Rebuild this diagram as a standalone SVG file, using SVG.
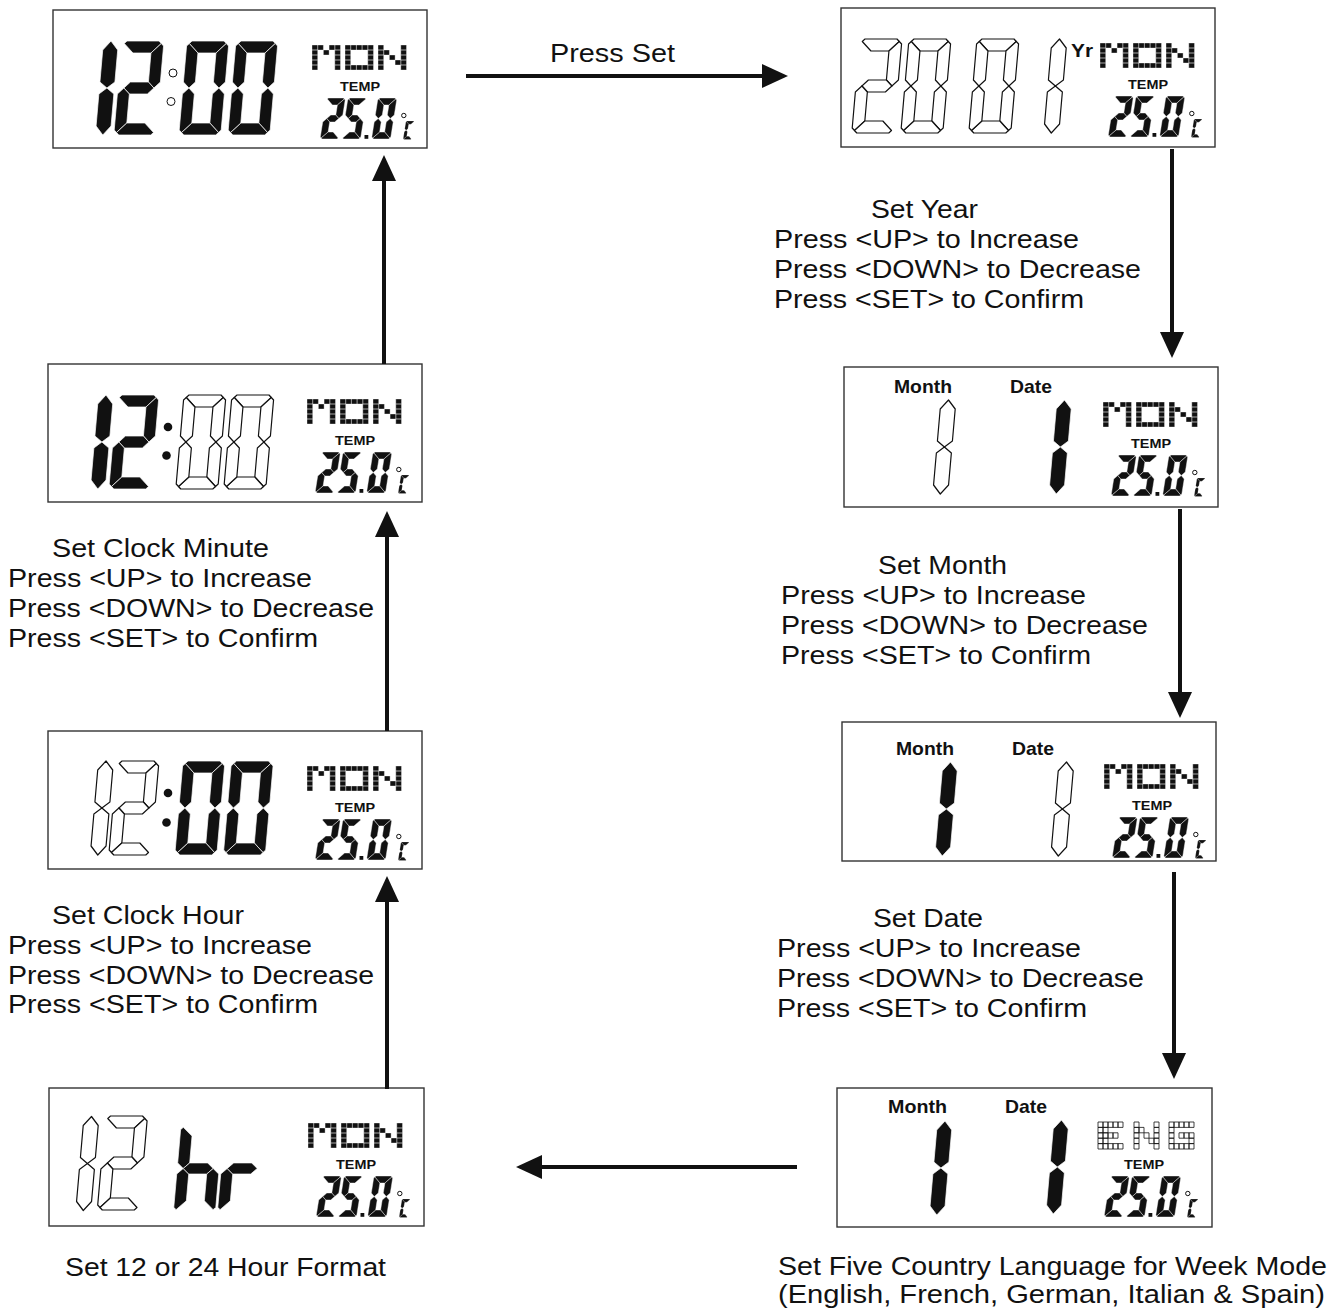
<svg xmlns="http://www.w3.org/2000/svg" xmlns:xlink="http://www.w3.org/1999/xlink" width="1338" height="1309" viewBox="0 0 1338 1309">
<style>
.on{fill:#111;stroke:#fff;stroke-width:0.7;stroke-linejoin:round}
.son{fill:#111;stroke:#fff;stroke-width:0.4;stroke-linejoin:round}
.off{fill:#fff;stroke:#111;stroke-width:1.2;stroke-linejoin:round}
.box{fill:#fff;stroke:#333;stroke-width:1.4}
.t{font-family:"Liberation Sans",Arial,sans-serif;font-size:25px;fill:#111}
.lb{font-family:"Liberation Sans",Arial,sans-serif;font-weight:bold;fill:#111}
.conn line{stroke:#111;stroke-width:4}
.px{fill:#111;stroke:#fff;stroke-width:0.35}
.pxo{fill:#fff;stroke:#111;stroke-width:0.8}
</style>
<defs>
<marker id="ah" markerUnits="userSpaceOnUse" markerWidth="26" markerHeight="26" viewBox="0 0 26 26" refX="4" refY="13" orient="auto"><path d="M0,1 L26,13 L0,25 z" fill="#111"/></marker>
<polygon id="ba" points="5,0 37,0 39.5,2.5 30,12 12,12 2.5,2.5"/>
<polygon id="bb" points="39.5,2.5 42,5 42,41 36,47 30,41 30,12"/>
<polygon id="bc" points="36,47 42,53 42,89 39.5,91.5 30,82 30,53"/>
<polygon id="bd" points="2.5,91.5 5,94 37,94 39.5,91.5 30,82 12,82"/>
<polygon id="be" points="0,53 6,47 12,53 12,82 2.5,91.5 0,89"/>
<polygon id="bf" points="0,5 2.5,2.5 12,12 12,41 6,47 0,41"/>
<polygon id="bg" points="6,47 12,41 30,41 36,47 30,53 12,53"/>
<polygon id="o1" points="7.5,0 15,9 15,41 7.5,47 0,41 0,9"/>
<polygon id="o2" points="7.5,47 15,53 15,85 7.5,94 0,85 0,53"/>
<g id="B0"><use href="#ba"/><use href="#bb"/><use href="#bc"/><use href="#bd"/><use href="#be"/><use href="#bf"/></g>
<g id="B2"><use href="#ba"/><use href="#bb"/><use href="#bg"/><use href="#be"/><use href="#bd"/></g>
<g id="B1"><use href="#o1"/><use href="#o2"/></g>
<g id="Bh"><use href="#bf"/><use href="#be"/><use href="#bg"/><use href="#bc"/></g>
<g id="Br"><use href="#be"/><use href="#bg"/></g>
<polygon id="sa" points="2,0 17,0 18,1 12,7 7,7 1,1"/>
<polygon id="sb" points="18,1 19,2 19,17 15.5,20.5 12,17 12,7"/>
<polygon id="sc" points="15.5,20.5 19,24 19,39 18,40 12,34 12,24"/>
<polygon id="sd" points="1,40 2,41 17,41 18,40 12,34 7,34"/>
<polygon id="se" points="0,24 3.5,20.5 7,24 7,34 1,40 0,39"/>
<polygon id="sf" points="0,2 1,1 7,7 7,17 3.5,20.5 0,17"/>
<polygon id="sg" points="3.5,20.5 7,17 12,17 15.5,20.5 12,24 7,24"/>
<g id="S2"><use href="#sa"/><use href="#sb"/><use href="#sg"/><use href="#se"/><use href="#sd"/></g>
<g id="S5"><use href="#sa"/><use href="#sf"/><use href="#sg"/><use href="#sc"/><use href="#sd"/></g>
<g id="S0"><use href="#sa"/><use href="#sb"/><use href="#sc"/><use href="#sd"/><use href="#se"/><use href="#sf"/></g>
<g id="SC"><use href="#sa"/><use href="#sf"/><use href="#se"/><use href="#sd"/></g>
<g id="tp">
<use href="#S2" class="son" transform="translate(273.5,88) skewX(-9)"/>
<use href="#S5" class="son" transform="translate(295,88) skewX(-9)"/>
<rect x="311.5" y="125" width="3.8" height="3.8" fill="#111"/>
<use href="#S0" class="son" transform="translate(325,88) skewX(-9)"/>
<circle cx="350.8" cy="105.5" r="2.2" fill="none" stroke="#111" stroke-width="1"/>
<use href="#SC" class="son" transform="translate(353,111) skewX(-9) scale(0.45)"/>
</g>
<g id="mon">
<path class="px" vector-effect="non-scaling-stroke" transform="translate(259,35) scale(5.7,5)" d="M0,0h1v1h-1z M1,0h1v1h-1z M3,0h1v1h-1z M4,0h1v1h-1z M0,1h1v1h-1z M2,1h1v1h-1z M4,1h1v1h-1z M0,2h1v1h-1z M4,2h1v1h-1z M0,3h1v1h-1z M4,3h1v1h-1z M0,4h1v1h-1z M4,4h1v1h-1z"/>
<path class="px" vector-effect="non-scaling-stroke" transform="translate(292,35) scale(5.7,5)" d="M0,0h1v1h-1z M1,0h1v1h-1z M2,0h1v1h-1z M3,0h1v1h-1z M4,0h1v1h-1z M0,1h1v1h-1z M4,1h1v1h-1z M0,2h1v1h-1z M4,2h1v1h-1z M0,3h1v1h-1z M4,3h1v1h-1z M0,4h1v1h-1z M1,4h1v1h-1z M2,4h1v1h-1z M3,4h1v1h-1z M4,4h1v1h-1z"/>
<path class="px" vector-effect="non-scaling-stroke" transform="translate(325,35) scale(5.7,5)" d="M0,0h1v1h-1z M4,0h1v1h-1z M0,1h1v1h-1z M1,1h1v1h-1z M4,1h1v1h-1z M0,2h1v1h-1z M2,2h1v1h-1z M4,2h1v1h-1z M0,3h1v1h-1z M3,3h1v1h-1z M4,3h1v1h-1z M0,4h1v1h-1z M4,4h1v1h-1z"/>
</g>
<g id="eng">
<path class="pxo" vector-effect="non-scaling-stroke" transform="translate(261,34) scale(5,5.4)" d="M0,0h1v1h-1z M1,0h1v1h-1z M2,0h1v1h-1z M3,0h1v1h-1z M4,0h1v1h-1z M0,1h1v1h-1z M1,1h1v1h-1z M0,2h1v1h-1z M1,2h1v1h-1z M2,2h1v1h-1z M3,2h1v1h-1z M0,3h1v1h-1z M1,3h1v1h-1z M0,4h1v1h-1z M1,4h1v1h-1z M2,4h1v1h-1z M3,4h1v1h-1z M4,4h1v1h-1z"/>
<path class="pxo" vector-effect="non-scaling-stroke" transform="translate(297,34) scale(5,5.4)" d="M0,0h1v1h-1z M4,0h1v1h-1z M0,1h1v1h-1z M1,1h1v1h-1z M4,1h1v1h-1z M0,2h1v1h-1z M2,2h1v1h-1z M4,2h1v1h-1z M0,3h1v1h-1z M3,3h1v1h-1z M4,3h1v1h-1z M0,4h1v1h-1z M4,4h1v1h-1z"/>
<path class="pxo" vector-effect="non-scaling-stroke" transform="translate(332,34) scale(5,5.4)" d="M0,0h1v1h-1z M1,0h1v1h-1z M2,0h1v1h-1z M3,0h1v1h-1z M4,0h1v1h-1z M0,1h1v1h-1z M0,2h1v1h-1z M2,2h1v1h-1z M3,2h1v1h-1z M4,2h1v1h-1z M0,3h1v1h-1z M4,3h1v1h-1z M0,4h1v1h-1z M1,4h1v1h-1z M2,4h1v1h-1z M3,4h1v1h-1z M4,4h1v1h-1z"/>
</g>
</defs>
<rect width="1338" height="1309" fill="#fff"/>

<g id="panel-clock">
<rect class="box" x="53" y="10" width="374" height="138"/>
<g transform="translate(53,10)">
<use href="#B1" class="on" transform="translate(50.5,31) skewX(-5)"/>
<use href="#B2" class="on" transform="translate(69,31) skewX(-5)"/>
<circle cx="120" cy="63" r="4" fill="#fff" stroke="#111" stroke-width="1"/>
<circle cx="118" cy="91.5" r="4" fill="#fff" stroke="#111" stroke-width="1"/>
<use href="#B0" class="on" transform="translate(134,31) skewX(-5)"/>
<use href="#B0" class="on" transform="translate(183,31) skewX(-5)"/>
<use href="#mon"/>
<text class="lb" x="307" y="81" font-size="13" text-anchor="middle" textLength="40" lengthAdjust="spacingAndGlyphs">TEMP</text>
<use href="#tp"/>
</g>
</g>

<g id="panel-year">
<rect class="box" x="841" y="8" width="374" height="139"/>
<use href="#B2" class="off" transform="translate(860,39) skewX(-5)"/>
<use href="#B0" class="off" transform="translate(909,39) skewX(-5)"/>
<use href="#B0" class="off" transform="translate(977,39) skewX(-5)"/>
<use href="#B1" class="off" transform="translate(1052,39) skewX(-5)"/>
<text class="lb" x="1071" y="57" font-size="18" textLength="22" lengthAdjust="spacingAndGlyphs">Yr</text>
<g transform="translate(841,8)">
<use href="#mon"/>
<text class="lb" x="307" y="81" font-size="13" text-anchor="middle" textLength="40" lengthAdjust="spacingAndGlyphs">TEMP</text>
<use href="#tp"/>
</g>
</g>

<g id="panel-month">
<rect class="box" x="844" y="367" width="374" height="140"/>
<text class="lb" x="894" y="393" font-size="19" textLength="58" lengthAdjust="spacingAndGlyphs">Month</text>
<text class="lb" x="1010" y="393" font-size="19" textLength="42" lengthAdjust="spacingAndGlyphs">Date</text>
<use href="#B1" class="off" transform="translate(941,400) skewX(-5)"/>
<use href="#B1" class="on" transform="translate(1057,400) skewX(-5)"/>
<g transform="translate(844,367)">
<use href="#mon"/>
<text class="lb" x="307" y="81" font-size="13" text-anchor="middle" textLength="40" lengthAdjust="spacingAndGlyphs">TEMP</text>
<use href="#tp"/>
</g>
</g>

<g id="panel-date">
<rect class="box" x="842" y="722" width="374" height="139"/>
<text class="lb" x="896" y="755" font-size="19" textLength="58" lengthAdjust="spacingAndGlyphs">Month</text>
<text class="lb" x="1012" y="755" font-size="19" textLength="42" lengthAdjust="spacingAndGlyphs">Date</text>
<use href="#B1" class="on" transform="translate(943,762) skewX(-5)"/>
<use href="#B1" class="off" transform="translate(1059,762) skewX(-5)"/>
<g transform="translate(845,729)">
<use href="#mon"/>
<text class="lb" x="307" y="81" font-size="13" text-anchor="middle" textLength="40" lengthAdjust="spacingAndGlyphs">TEMP</text>
<use href="#tp"/>
</g>
</g>

<g id="panel-language">
<rect class="box" x="837" y="1088" width="375" height="139"/>
<text class="lb" x="888" y="1113" font-size="19" textLength="59" lengthAdjust="spacingAndGlyphs">Month</text>
<text class="lb" x="1005" y="1113" font-size="19" textLength="42" lengthAdjust="spacingAndGlyphs">Date</text>
<use href="#B1" class="on" transform="translate(937.5,1121) skewX(-5)"/>
<use href="#B1" class="on" transform="translate(1054,1120) skewX(-5)"/>
<g transform="translate(837,1088)">
<use href="#eng"/>
<text class="lb" x="307" y="81" font-size="13" text-anchor="middle" textLength="40" lengthAdjust="spacingAndGlyphs">TEMP</text>
<use href="#tp"/>
</g>
</g>

<g id="panel-hourformat">
<rect class="box" x="49" y="1088" width="375" height="138"/>
<g transform="translate(49,1088)">
<use href="#B1" class="off" transform="translate(35,28.5) skewX(-5)"/>
<use href="#B2" class="off" transform="translate(56.5,28) skewX(-5)"/>
<use href="#Bh" class="on" transform="translate(132,37) skewX(-5) scale(1,0.925)"/>
<use href="#Br" class="on" transform="translate(176,37) skewX(-5) scale(1,0.925)"/>
<use href="#mon"/>
<text class="lb" x="307" y="81" font-size="13" text-anchor="middle" textLength="40" lengthAdjust="spacingAndGlyphs">TEMP</text>
<use href="#tp"/>
</g>
</g>

<g id="panel-hour">
<rect class="box" x="48" y="731" width="374" height="138"/>
<g transform="translate(48,731)">
<use href="#B1" class="off" transform="translate(50.5,30) skewX(-5)"/>
<use href="#B2" class="off" transform="translate(69,30) skewX(-5)"/>
<circle cx="120" cy="62" r="4.3" fill="#111"/>
<circle cx="118.5" cy="91.5" r="4.3" fill="#111"/>
<use href="#B0" class="on" transform="translate(135,30) skewX(-5)"/>
<use href="#B0" class="on" transform="translate(183.5,30) skewX(-5)"/>
<use href="#mon"/>
<text class="lb" x="307" y="81" font-size="13" text-anchor="middle" textLength="40" lengthAdjust="spacingAndGlyphs">TEMP</text>
<use href="#tp"/>
</g>
</g>

<g id="panel-minute">
<rect class="box" x="48" y="364" width="374" height="138"/>
<g transform="translate(48,364)">
<use href="#B1" class="on" transform="translate(50.5,31) skewX(-5)"/>
<use href="#B2" class="on" transform="translate(69,31) skewX(-5)"/>
<circle cx="120" cy="63" r="4.3" fill="#111"/>
<circle cx="118.5" cy="91.5" r="4.3" fill="#111"/>
<use href="#B0" class="off" transform="translate(136,31) skewX(-5)"/>
<use href="#B0" class="off" transform="translate(184,31) skewX(-5)"/>
<use href="#mon"/>
<text class="lb" x="307" y="81" font-size="13" text-anchor="middle" textLength="40" lengthAdjust="spacingAndGlyphs">TEMP</text>
<use href="#tp"/>
</g>
</g>

<g id="connectors" class="conn">
<line x1="466" y1="76" x2="766" y2="76" marker-end="url(#ah)"/>
<line x1="1172" y1="149" x2="1172" y2="336" marker-end="url(#ah)"/>
<line x1="1180" y1="509" x2="1180" y2="696" marker-end="url(#ah)"/>
<line x1="1174" y1="872" x2="1174" y2="1057" marker-end="url(#ah)"/>
<line x1="797" y1="1167" x2="538" y2="1167" marker-end="url(#ah)"/>
<line x1="387" y1="1089" x2="387" y2="898" marker-end="url(#ah)"/>
<line x1="387" y1="731" x2="387" y2="533" marker-end="url(#ah)"/>
<line x1="384" y1="364" x2="384" y2="177" marker-end="url(#ah)"/>
</g>

<g id="labels">
<text class="t" x="550" y="62" textLength="125" lengthAdjust="spacingAndGlyphs">Press Set</text>
<text class="t" x="871" y="218" textLength="107" lengthAdjust="spacingAndGlyphs">Set Year</text>
<text class="t" x="774" y="248" textLength="305" lengthAdjust="spacingAndGlyphs">Press &lt;UP&gt; to Increase</text>
<text class="t" x="774" y="278" textLength="367" lengthAdjust="spacingAndGlyphs">Press &lt;DOWN&gt; to Decrease</text>
<text class="t" x="774" y="308" textLength="310" lengthAdjust="spacingAndGlyphs">Press &lt;SET&gt; to Confirm</text>
<text class="t" x="878" y="574" textLength="129" lengthAdjust="spacingAndGlyphs">Set Month</text>
<text class="t" x="781" y="604" textLength="305" lengthAdjust="spacingAndGlyphs">Press &lt;UP&gt; to Increase</text>
<text class="t" x="781" y="634" textLength="367" lengthAdjust="spacingAndGlyphs">Press &lt;DOWN&gt; to Decrease</text>
<text class="t" x="781" y="664" textLength="310" lengthAdjust="spacingAndGlyphs">Press &lt;SET&gt; to Confirm</text>
<text class="t" x="873" y="927" textLength="110" lengthAdjust="spacingAndGlyphs">Set Date</text>
<text class="t" x="777" y="957" textLength="304" lengthAdjust="spacingAndGlyphs">Press &lt;UP&gt; to Increase</text>
<text class="t" x="777" y="987" textLength="367" lengthAdjust="spacingAndGlyphs">Press &lt;DOWN&gt; to Decrease</text>
<text class="t" x="777" y="1017" textLength="310" lengthAdjust="spacingAndGlyphs">Press &lt;SET&gt; to Confirm</text>
<text class="t" x="52" y="557" textLength="217" lengthAdjust="spacingAndGlyphs">Set Clock Minute</text>
<text class="t" x="8" y="587" textLength="304" lengthAdjust="spacingAndGlyphs">Press &lt;UP&gt; to Increase</text>
<text class="t" x="8" y="617" textLength="366" lengthAdjust="spacingAndGlyphs">Press &lt;DOWN&gt; to Decrease</text>
<text class="t" x="8" y="647" textLength="310" lengthAdjust="spacingAndGlyphs">Press &lt;SET&gt; to Confirm</text>
<text class="t" x="52" y="924" textLength="192" lengthAdjust="spacingAndGlyphs">Set Clock Hour</text>
<text class="t" x="8" y="954" textLength="304" lengthAdjust="spacingAndGlyphs">Press &lt;UP&gt; to Increase</text>
<text class="t" x="8" y="984" textLength="366" lengthAdjust="spacingAndGlyphs">Press &lt;DOWN&gt; to Decrease</text>
<text class="t" x="8" y="1013" textLength="310" lengthAdjust="spacingAndGlyphs">Press &lt;SET&gt; to Confirm</text>
<text class="t" x="65" y="1276" textLength="321" lengthAdjust="spacingAndGlyphs">Set 12 or 24 Hour Format</text>
<text class="t" x="778" y="1275" textLength="549" lengthAdjust="spacingAndGlyphs">Set Five Country Language for Week Mode</text>
<text class="t" x="778" y="1303" textLength="547" lengthAdjust="spacingAndGlyphs">(English, French, German, Italian &amp; Spain)</text>
</g>
</svg>
